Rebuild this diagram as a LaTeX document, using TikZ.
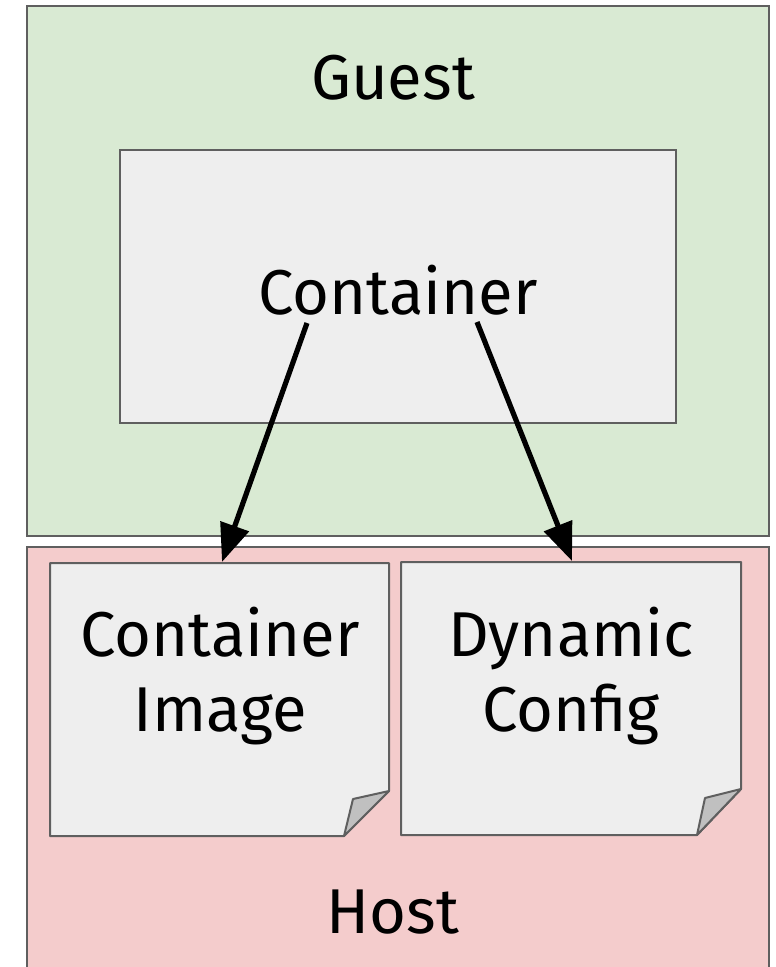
\documentclass[tikz,border=0pt]{standalone}
\usepackage{fontspec}
\setmainfont{Fira Sans}
\usetikzlibrary{arrows.meta}
\definecolor{guestfill}{HTML}{D9EAD3}
\definecolor{hostfill}{HTML}{F4CCCC}
\definecolor{boxfill}{HTML}{EEEEEE}
\definecolor{edge}{HTML}{5F5F5F}
\definecolor{flapfill}{HTML}{C0C0C0}
\tikzset{
  panel/.style={draw=edge, line width=1.5pt},
  label/.style={font=\fontsize{47.5}{56}\selectfont, align=center, inner sep=0pt},
  link/.style={line width=3.9pt, -{Triangle[length=28.5pt,width=22pt]}},
}
\begin{document}
\begin{tikzpicture}[x=0.75pt, y=-0.75pt]
  \useasboundingbox (0,0) rectangle (775,967);
  \begin{scope}
    \clip (0,0) rectangle (775,967);
    % outer regions
    \draw[panel, fill=guestfill] (27,6) rectangle (769,536);
    \draw[panel, fill=hostfill] (27,547) rectangle (769,980);
    % container box
    \draw[panel, fill=boxfill] (120,150) rectangle (676,423);
    % documents with folded corners
    \draw[panel, fill=boxfill, line join=round]
      (50,563) -- (389,563) -- (389,791) -- (344,836) -- (50,836) -- cycle;
    \draw[panel, fill=flapfill, line join=round]
      (389,791) -- (353,799) -- (344,836) -- cycle;
    \draw[panel, fill=boxfill, line join=round]
      (401,562) -- (741,562) -- (741,789) -- (697,835) -- (401,835) -- cycle;
    \draw[panel, fill=flapfill, line join=round]
      (741,789) -- (705,798) -- (697,835) -- cycle;
  \end{scope}

  \node[label] (guest) at (393,78) {Guest};
  \node[label] (container) at (398,290) {Container};
  \node[label] (image) at (220,676) {Container\\Image};
  \node[label] (config) at (571,676) {Dynamic\\Config};
  \node[label] (host) at (393,912) {Host};

  \coordinate (s1) at (307,323);
  \coordinate (e1) at (222,562);
  \coordinate (s2) at (477,322);
  \coordinate (e2) at (572,561);
  \draw[link] (s1) -- (e1);
  \draw[link] (s2) -- (e2);
\end{tikzpicture}
\end{document}
